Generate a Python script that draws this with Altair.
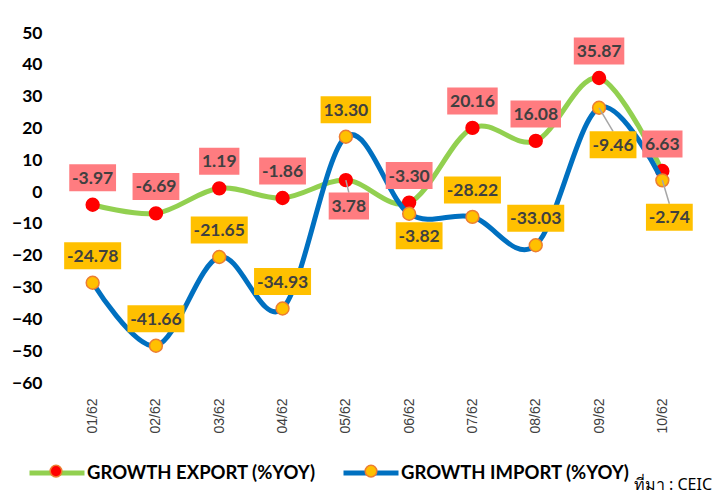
import altair as alt
import pandas as pd

# ---------------- data ----------------
months = ["01/62", "02/62", "03/62", "04/62", "05/62", "06/62", "07/62", "08/62", "09/62", "10/62"]
series_names = ["GROWTH EXPORT (%YOY)", "GROWTH IMPORT (%YOY)"]
marker_keys = ["export_marker", "import_marker"]

export_values = [-3.97, -6.69, 1.19, -1.86, 3.78, -3.30, 20.16, 16.08, 35.87, 6.63]
export_labels = ["-3.97", "-6.69", "1.19", "-1.86", "3.78", "-3.30", "20.16", "16.08", "35.87", "6.63"]

import_values = [-28.5, -48.3, -20.4, -36.6, 17.4, -6.8, -7.8, -16.7, 26.5, 3.7]
import_labels = ["-24.78", "-41.66", "-21.65", "-34.93", "13.30", "-3.82", "-28.22", "-33.03", "-9.46", "-2.74"]

y_ticks = [-60, -50, -40, -30, -20, -10, 0, 10, 20, 30, 40, 50]
source_text = ["ที่มา : CEIC"]

# ---------------- label placement (pixel offsets from the point) ----------------
export_label_dx = [0, 0, 0, 0, 3, 0, 0, 0, 0, 0]
export_label_dy = [-27, -27, -27, -27, 26, -27, -27, -27, -27, -27]
export_leader = [False, False, False, False, True, False, False, False, False, False]
import_label_dx = [0, 0, 0, 0, 0, 10, 0, 0, 14, 7]
import_label_dy = [-27, -27, -27, -27, -27, 22, -27, -27, 37, 37]
import_leader = [False, False, False, False, False, False, False, False, True, True]

# ---------------- layout / style ----------------
PLOT_W, PLOT_H = 633, 350
Y_MIN, Y_MAX = -60, 50
X_MIN, X_MAX = -0.5, 9.5
UX = (X_MAX - X_MIN) / PLOT_W
UY = (Y_MAX - Y_MIN) / PLOT_H
BOX_H = 27
CHAR_W = {"-": 6.5, ".": 4.7}
GREEN, BLUE = "#92D050", "#0070C0"
RED, GOLD, ORANGE = "#FF0000", "#FFC000", "#ED7D31"
PINK = "#FF7C80"
TXT = "#404040"
LABEL_FONT = "Lato"


def text_w(s):
    return sum(CHAR_W.get(c, 10.2) for c in s) + 5


rows = []
for name, key, vals, labs, dxs, dys, lead in [
    (series_names[0], marker_keys[0], export_values, export_labels, export_label_dx, export_label_dy, export_leader),
    (series_names[1], marker_keys[1], import_values, import_labels, import_label_dx, import_label_dy, import_leader),
]:
    for i, (v, lab, dx, dy, ld) in enumerate(zip(vals, labs, dxs, dys, lead)):
        lx = i + dx * UX
        ly = v - dy * UY
        hw = text_w(lab) / 2 * UX
        hh = BOX_H / 2 * UY
        lead_end = ly + hh if dy > 0 else ly - hh
        rows.append(dict(series=name, series_pt=key, idx=i, value=v, label=lab,
                         lx=lx, ly=ly, bx1=lx - hw, bx2=lx + hw, by1=ly - hh, by2=ly + hh,
                         leader=ld, lead_end=lead_end))
df = pd.DataFrame(rows)

label_expr = "[" + ",".join('"%s"' % m for m in months) + "][datum.value]"

x_scale = alt.Scale(domain=[X_MIN, X_MAX], nice=False, zero=False)
y_scale = alt.Scale(domain=[Y_MIN, Y_MAX], nice=False, zero=False)
x_axis = alt.Axis(values=list(range(len(months))), labelExpr=label_expr, labelAngle=-90,
                  ticks=False, domain=False, grid=False, labelFont="Liberation Sans",
                  labelFontSize=14, labelColor=TXT, labelPadding=15, labelFontWeight="normal",
                  labelOverlap=False)
y_axis = alt.Axis(values=y_ticks, ticks=False, domain=False, grid=False, labelFont=LABEL_FONT,
                  labelFontSize=17.5, labelFontWeight="bold", labelColor="#000000",
                  labelPadding=19, labelOverlap=False)


def xq(field):
    return alt.X(field, scale=x_scale, axis=x_axis, title=None)


def yq(field):
    return alt.Y(field, scale=y_scale, axis=y_axis, title=None)


# legend: lines with names, plus a second legend holding only the marker dots
LEG_Y = 410
stroke_enc = alt.Stroke("series:N", scale=alt.Scale(domain=series_names, range=[GREEN, BLUE]),
                        legend=alt.Legend(orient="none", legendX=-34, legendY=LEG_Y, direction="horizontal",
                                          title=None, labelFont=LABEL_FONT, labelFontSize=18.5,
                                          labelFontWeight="bold", labelColor="#000000", labelOffset=0,
                                          columnPadding=17, padding=0, symbolType="stroke",
                                          symbolSize=3025, symbolStrokeWidth=5, labelLimit=400))
fill_enc = alt.Fill("series_pt:N", scale=alt.Scale(domain=marker_keys, range=[RED, GOLD]),
                    legend=alt.Legend(orient="none", legendX=-12, legendY=LEG_Y + 21, direction="horizontal",
                                      title=None, labelExpr="''", labelOffset=0, labelFontSize=1,
                                      columnPadding=297, padding=0, symbolType="circle", symbolSize=135,
                                      symbolStrokeWidth=1.5, symbolStrokeColor=ORANGE, symbolOpacity=1))

base = alt.Chart(df).encode(x=xq("idx:Q"), y=yq("value:Q"))


def only(name):
    return alt.datum.series == name


layers = []
for name, pt_stroke in [(series_names[0], RED), (series_names[1], ORANGE)]:
    layers.append(base.transform_filter(only(name)).mark_line(interpolate="cardinal", strokeWidth=5)
                  .encode(stroke=stroke_enc))
    layers.append(base.transform_filter(only(name)).mark_point(filled=True, size=165, opacity=1,
                                                               stroke=pt_stroke, strokeWidth=1.5)
                  .encode(fill=fill_enc))

leaders = alt.Chart(df).transform_filter(alt.datum.leader).mark_rule(color="#A6A6A6", strokeWidth=1.5).encode(
    x=xq("idx:Q"), y=yq("value:Q"), x2="lx:Q", y2="lead_end:Q")
layers.append(leaders)

for name, box_col in [(series_names[0], PINK), (series_names[1], GOLD)]:
    layers.append(alt.Chart(df).transform_filter(only(name)).mark_rect(color=box_col).encode(
        x=xq("bx1:Q"), x2="bx2:Q", y=yq("by1:Q"), y2="by2:Q"))
    layers.append(alt.Chart(df).transform_filter(only(name)).mark_text(
        font=LABEL_FONT, fontSize=17.5, fontWeight="bold", color=TXT, baseline="middle", align="center", dy=1
    ).encode(x=xq("lx:Q"), y=yq("ly:Q"), text="label:N"))

src = alt.Chart(pd.DataFrame({"t": source_text})).mark_text(
    font="Noto Sans", fontSize=16, color="#000000", align="right", baseline="middle"
).encode(text="t:N", x=alt.value(651), y=alt.value(452))
layers.append(src)

chart = alt.layer(*layers).properties(
    width=PLOT_W, height=PLOT_H,
    padding={"left": 53, "top": 25, "right": 19, "bottom": 111},
    autosize=alt.AutoSizeParams(type="none"),
    background="white",
).configure_view(stroke=None)

chart.save("out.html", embed_options={"renderer": "svg", "actions": False})
